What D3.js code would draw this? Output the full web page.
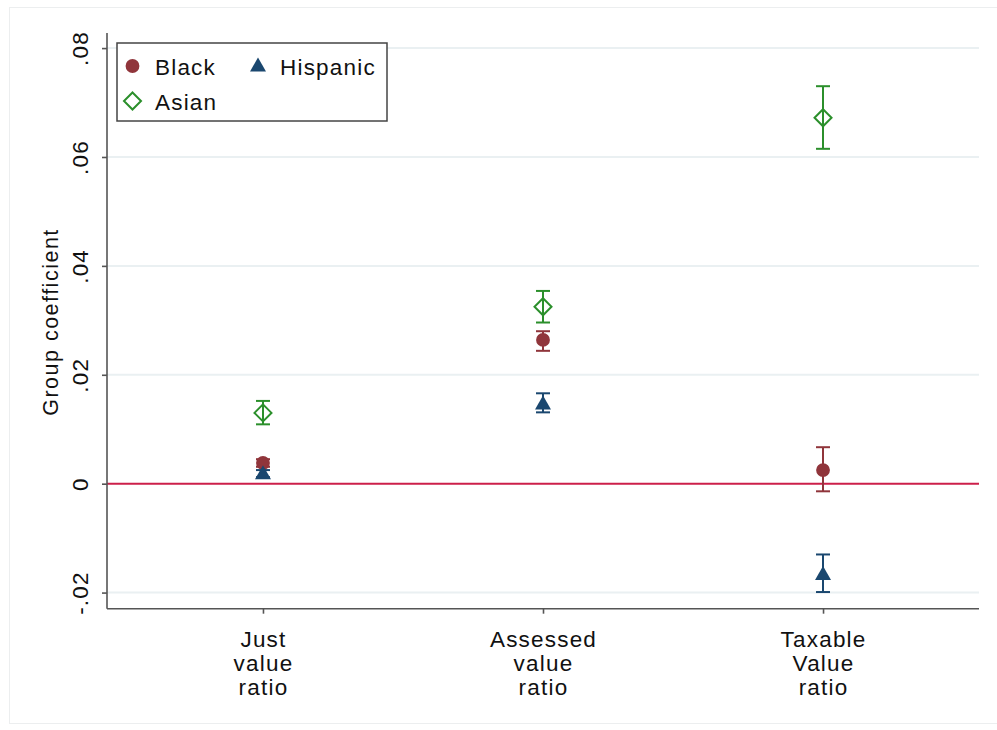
<!DOCTYPE html>
<html>
<head>
<meta charset="utf-8">
<script src="https://cdn.jsdelivr.net/npm/d3@7"></script>
<style>
  html, body { margin: 0; padding: 0; background: #ffffff; }
  svg { display: block; font-family: Arial, "Liberation Sans", Helvetica, sans-serif; }
</style>
</head>
<body>
<svg id="chart" width="997" height="730"></svg>
<script>
// Outcome measures along the x axis
const categories = ["Just value ratio", "Assessed value ratio", "Taxable Value ratio"];
const categoryLines = [["Just", "value", "ratio"], ["Assessed", "value", "ratio"], ["Taxable", "Value", "ratio"]];

// Group coefficients with 95% confidence bounds, one entry per category
const blackEst  = [0.0038, 0.0264, 0.0025];
const blackLo   = [0.0031, 0.0244, -0.0014];
const blackHi   = [0.0045, 0.0280, 0.0067];

const hispEst   = [0.0020, 0.0148, -0.0165];
const hispLo    = [0.0012, 0.0131, -0.0199];
const hispHi    = [0.0025, 0.0166, -0.0130];

const asianEst  = [0.0130, 0.0325, 0.0672];
const asianLo   = [0.0109, 0.0296, 0.0615];
const asianHi   = [0.0152, 0.0354, 0.0730];

const yTicks = [-0.02, 0, 0.02, 0.04, 0.06, 0.08];
const yTickLabels = ["-.02", "0", ".02", ".04", ".06", ".08"];

const series = [
  { name: "Black",    color: "#90353b", shape: "circle",   est: blackEst, lo: blackLo, hi: blackHi },
  { name: "Hispanic", color: "#1a476f", shape: "triangle", est: hispEst,  lo: hispLo,  hi: hispHi },
  { name: "Asian",    color: "#2b8f2b", shape: "diamond",  est: asianEst, lo: asianLo, hi: asianHi }
];

const FONT = 22.5;
const SPACING = 1.2;

const svg = d3.select("#chart");

// Faint outer frame around the whole graph region
svg.append("rect")
  .attr("x", 9.5).attr("y", 7.5).attr("width", 995).attr("height", 716)
  .attr("fill", "none").attr("stroke", "#eceeef").attr("stroke-width", 1);

const plot = { left: 107, right: 979, top: 33, bottom: 608.7 };

const x = d3.scaleLinear().domain([0.443, 3.557]).range([plot.left, plot.right]);
const y = d3.scaleLinear().domain([-0.02296, 0.08277]).range([plot.bottom, plot.top]);

// Horizontal gridlines
svg.append("g")
  .selectAll("line")
  .data(yTicks.filter(t => t !== 0))
  .join("line")
  .attr("x1", plot.left).attr("x2", plot.right)
  .attr("y1", d => y(d)).attr("y2", d => y(d))
  .attr("stroke", "#eaf0f2").attr("stroke-width", 2);

// Reference line at zero
svg.append("line")
  .attr("x1", plot.left).attr("x2", plot.right)
  .attr("y1", y(0)).attr("y2", y(0))
  .attr("stroke", "#cc1f4a").attr("stroke-width", 2);

// Y axis
const yAxis = d3.axisLeft(y)
  .tickValues(yTicks)
  .tickFormat((d, i) => yTickLabels[i])
  .tickSize(5)
  .tickSizeOuter(0);

const yG = svg.append("g")
  .attr("transform", `translate(${plot.left},0)`)
  .call(yAxis);
yG.select(".domain").attr("stroke", "#555555").attr("stroke-width", 1.6)
  .attr("d", `M0,${plot.top}V${plot.bottom}`);
yG.selectAll(".tick line").attr("stroke", "#555555").attr("stroke-width", 1.6);
yG.selectAll(".tick text")
  .attr("font-size", FONT)
  .attr("letter-spacing", SPACING)
  .attr("fill", "#111")
  .attr("x", 0).attr("y", 0).attr("dy", 0)
  .attr("text-anchor", "middle")
  .attr("transform", "translate(-19,0) rotate(-90)");

// X axis
const xAxis = d3.axisBottom(x)
  .tickValues([1, 2, 3])
  .tickFormat("")
  .tickSize(5)
  .tickSizeOuter(0);

const xG = svg.append("g")
  .attr("transform", `translate(0,${plot.bottom})`)
  .call(xAxis);
xG.select(".domain").attr("stroke", "#555555").attr("stroke-width", 1.6)
  .attr("d", `M${plot.left},0H${plot.right}`);
xG.selectAll(".tick line").attr("stroke", "#555555").attr("stroke-width", 1.6);

// Multi-line category labels
xG.selectAll(".tick").each(function (d, i) {
  const t = d3.select(this).append("text")
    .attr("fill", "#111").attr("font-size", FONT)
    .attr("letter-spacing", SPACING).attr("text-anchor", "middle");
  categoryLines[i].forEach((line, j) => {
    t.append("tspan").attr("x", 0).attr("y", 38 + j * 24).text(line);
  });
});

// Y axis title
svg.append("text")
  .attr("transform", `translate(58,322) rotate(-90)`)
  .attr("text-anchor", "middle")
  .attr("font-size", 21.5)
  .attr("letter-spacing", 1.5)
  .attr("fill", "#111")
  .text("Group coefficient");

// Marker path generators
function markerPath(shape) {
  if (shape === "circle") return d3.symbol(d3.symbolCircle, 150)();
  if (shape === "triangle") return "M0,-7.5L8,6.5L-8,6.5Z";
  return "M0,-8.5L8.5,0L0,8.5L-8.5,0Z";
}

const capHalf = 7;

series.forEach(s => {
  const g = svg.append("g");
  const rows = s.est.map((e, i) => ({ i, e, lo: s.lo[i], hi: s.hi[i] }));

  // Confidence interval whiskers
  g.selectAll("line.ci")
    .data(rows).join("line").attr("class", "ci")
    .attr("x1", d => x(d.i + 1)).attr("x2", d => x(d.i + 1))
    .attr("y1", d => y(d.lo)).attr("y2", d => y(d.hi))
    .attr("stroke", s.color).attr("stroke-width", 2);
  ["lo", "hi"].forEach(k => {
    g.selectAll("line.cap" + k)
      .data(rows).join("line").attr("class", "cap" + k)
      .attr("x1", d => x(d.i + 1) - capHalf).attr("x2", d => x(d.i + 1) + capHalf)
      .attr("y1", d => y(d[k])).attr("y2", d => y(d[k]))
      .attr("stroke", s.color).attr("stroke-width", 2);
  });

  // Point estimates
  g.selectAll("path.pt")
    .data(rows).join("path").attr("class", "pt")
    .attr("transform", d => `translate(${x(d.i + 1)},${y(d.e)})`)
    .attr("d", markerPath(s.shape))
    .attr("fill", s.shape === "diamond" ? "#ffffff" : s.color)
    .attr("fill-opacity", s.shape === "diamond" ? 0 : 1)
    .attr("stroke", s.color)
    .attr("stroke-width", s.shape === "diamond" ? 2 : 0);
});

// Legend
const legend = svg.append("g");
legend.append("rect")
  .attr("x", 117).attr("y", 43).attr("width", 270).attr("height", 78)
  .attr("fill", "#ffffff").attr("stroke", "#444444").attr("stroke-width", 1.5);

const legendPos = [
  { s: series[0], mx: 132.5, my: 66, tx: 155, ty: 74.5 },
  { s: series[1], mx: 258, my: 65, tx: 280, ty: 74.5 },
  { s: series[2], mx: 132.5, my: 101, tx: 155, ty: 109.5 }
];
legendPos.forEach(p => {
  legend.append("path")
    .attr("transform", `translate(${p.mx},${p.my})`)
    .attr("d", markerPath(p.s.shape))
    .attr("fill", p.s.shape === "diamond" ? "none" : p.s.color)
    .attr("stroke", p.s.color)
    .attr("stroke-width", p.s.shape === "diamond" ? 2 : 0);
  legend.append("text")
    .attr("x", p.tx).attr("y", p.ty)
    .attr("font-size", FONT).attr("letter-spacing", SPACING)
    .attr("fill", "#111")
    .text(p.s.name);
});
</script>
</body>
</html>
